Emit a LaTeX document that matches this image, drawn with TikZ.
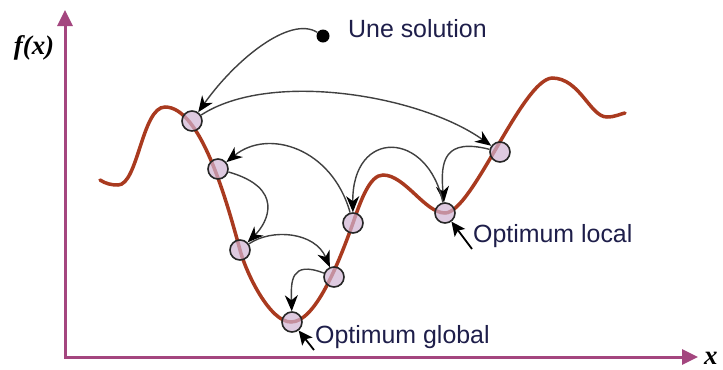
\documentclass[tikz,border=0pt]{standalone}
\usepackage{fontspec}
\setmainfont{Liberation Sans}
\newfontfamily\serifbi{Liberation Serif}[BoldItalicFont={* Bold Italic}]
\usetikzlibrary{arrows.meta}
\definecolor{axiscol}{HTML}{A4467F}
\definecolor{curvecol}{HTML}{A93A1F}
\definecolor{ptfill}{HTML}{D0B4D4}
\definecolor{txtcol}{HTML}{1E1E4A}
\tikzset{
  axis/.style={axiscol, line width=3bp, -{Triangle[length=16bp,width=15bp]}},
  fcurve/.style={curvecol, line width=3.5bp, line cap=round},
  pt/.style={circle, minimum size=20bp, inner sep=0pt, draw=black!85, line width=1.6bp, fill=ptfill, fill opacity=0.7},
  conn/.style={black!75, line width=1.4bp, -{Stealth[length=16bp,width=13bp,inset=5bp,black]}},
  ptr/.style={black, line width=1.8bp, -{Stealth[length=14bp,width=13bp,inset=3bp]}},
  lbl/.style={inner sep=0pt, text=txtcol, font=\fontsize{25}{30}\selectfont},
  axlbl/.style={inner sep=0pt, font=\fontsize{27}{32}\selectfont\serifbi\bfseries\itshape}
}
\begin{document}
\begin{tikzpicture}[x=1bp, y=-1bp]
\useasboundingbox (0,0) rectangle (723,369);
\fill[white] (0,0) rectangle (723,369);
% axes
\coordinate (O) at (65,357);
\coordinate (ytip) at (65,10);
\coordinate (xtip) at (698,357);
\draw[axis, line cap=butt] (65,358.5) -- (ytip);
\draw[axis] (O) -- (xtip);
\node[axlbl] (fx) at (34,48) {f(x)};
\node[axlbl, anchor=base west] (xl) at (704,364) {x};
% function curve
\draw[fcurve] (100,180) .. controls (106,184) and (112,185) .. (118,185)
  .. controls (138,185) and (142,107) .. (165,107)
  .. controls (200,107) and (225.7,197) .. (240,250)
  .. controls (246.5,274) and (270,322) .. (291,322)
  .. controls (315,322) and (338,265) .. (353,223)
  .. controls (361,199.5) and (370,175) .. (383,175)
  .. controls (405,175) and (425,213) .. (445,213)
  .. controls (472,213) and (522,80) .. (552,78)
  .. controls (580,78) and (590,117) .. (607,117)
  .. controls (615,117) and (620,114) .. (625,113);
% points
\node[pt] (P1) at (192,121) {};
\node[pt] (P2) at (500,152) {};
\node[pt] (Q1) at (218,169) {};
\node[pt] (P3) at (240,250) {};
\node[pt] (P4) at (353,223) {};
\node[pt] (P5) at (334,277) {};
\node[pt] (Pg) at (292,322) {};
\node[pt] (Pl) at (445,213) {};
\node[circle, fill=black, minimum size=13bp, inner sep=0pt] (dot) at (323,36) {};
% labels
\node[lbl, anchor=base west] (une) at (348,37) {Une solution};
\node[lbl, anchor=base west] (loc) at (473,242) {Optimum local};
\node[lbl, anchor=base west] (glob) at (315,343) {Optimum global};
% connectors
\draw[conn] (dot) .. controls (290,15) and (235,60) .. (P1);
\draw[conn] (P1) .. controls (270,70) and (420,95) .. (P2);
\draw[conn] (P2) .. controls (445,138) and (440,160) .. (Pl);
\draw[conn] (Pl) .. controls (428,130) and (352,128) .. (P4);
\draw[conn] (P4) .. controls (332,148) and (268,128) .. (Q1);
\draw[conn] (Q1) .. controls (285,188) and (268,222) .. (P3);
\draw[conn] (P3) .. controls (272,228) and (315,232) .. (P5);
\draw[conn] (P5) .. controls (290,260) and (291,282) .. (Pg);
\draw[ptr] ([xshift=-1bp,yshift=-7bp]loc.base west) -- (Pl);
\draw[ptr] ([xshift=-1bp,yshift=-7bp]glob.base west) -- (Pg);
\end{tikzpicture}
\end{document}
